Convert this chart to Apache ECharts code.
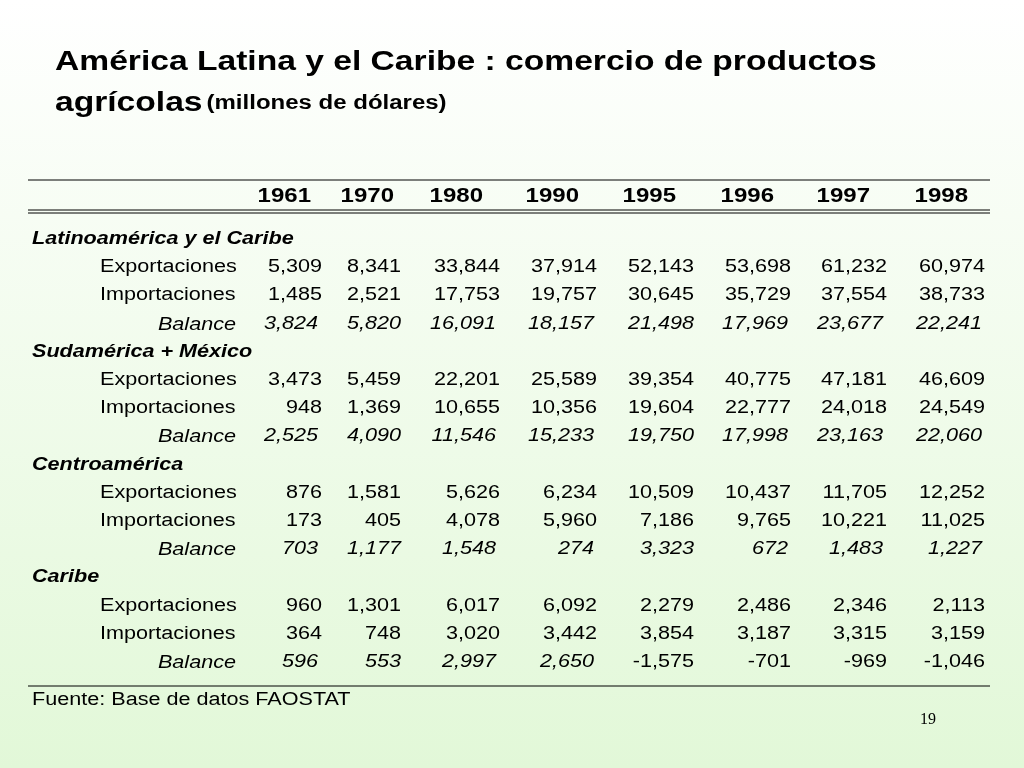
<!DOCTYPE html>
<html><head><meta charset="utf-8">
<script src="https://cdn.jsdelivr.net/npm/echarts@6/dist/echarts.min.js"></script>
<style>html,body{margin:0;padding:0;}#c{width:1024px;height:768px;}</style>
</head><body><div id="c"></div>
<script>
const years = ['1961','1970','1980','1990','1995','1996','1997','1998'];
const groups = ['Latinoamérica y el Caribe','Sudamérica + México','Centroamérica','Caribe'];
const rowLabels = ['Exportaciones','Importaciones','Balance'];
const latExp = ['5,309','8,341','33,844','37,914','52,143','53,698','61,232','60,974'];
const latImp = ['1,485','2,521','17,753','19,757','30,645','35,729','37,554','38,733'];
const latBal = ['3,824','5,820','16,091','18,157','21,498','17,969','23,677','22,241'];
const sudExp = ['3,473','5,459','22,201','25,589','39,354','40,775','47,181','46,609'];
const sudImp = ['948','1,369','10,655','10,356','19,604','22,777','24,018','24,549'];
const sudBal = ['2,525','4,090','11,546','15,233','19,750','17,998','23,163','22,060'];
const cenExp = ['876','1,581','5,626','6,234','10,509','10,437','11,705','12,252'];
const cenImp = ['173','405','4,078','5,960','7,186','9,765','10,221','11,025'];
const cenBal = ['703','1,177','1,548','274','3,323','672','1,483','1,227'];
const carExp = ['960','1,301','6,017','6,092','2,279','2,486','2,346','2,113'];
const carImp = ['364','748','3,020','3,442','3,854','3,187','3,315','3,159'];
const carBal = ['596','553','2,997','2,650','-1,575','-701','-969','-1,046'];
const tableData = [[latExp,latImp,latBal],[sudExp,sudImp,sudBal],[cenExp,cenImp,cenBal],[carExp,carImp,carBal]];

const headX = [311,394,483,579,676,774,870,968];
const valX = [322,401,500,597,694,791,887,985];
const balX = [318,401,496,594,694,788,883,982];
const F = 'Arial, "Liberation Sans", sans-serif';
const SX = 1.2;
const els = [];
function txt(x,y,t,o,sx){els.push({type:'text',x:x,y:y,scaleX:sx||SX,originX:0,originY:0,style:Object.assign({text:t,x:0,y:0,fill:'#000',font:'18px '+F,textAlign:'left',textVerticalAlign:'middle'},o||{})});}
function line(x1,y1,x2,y2,w){els.push({type:'line',shape:{x1:x1,y1:y1,x2:x2,y2:y2},style:{stroke:'#000',lineWidth:w||1}});}

txt(55,62,'América Latina y el Caribe : comercio de productos',{font:'bold 28px '+F});
els.push({type:'text',x:55,y:103,scaleX:SX,style:{rich:{a:{font:'bold 28px '+F,fill:'#000'},b:{font:'bold 20px '+F,fill:'#000'}},text:'{a|agrícolas} {b|(millones de dólares)}',textVerticalAlign:'middle'}});

line(28,180,990,180,1);
line(28,210,990,210,1);
line(28,213,990,213,1);
line(28,686,990,686,1);
years.forEach((y,i)=>txt(headX[i],196,y,{font:'bold 20px '+F,textAlign:'right'}));

let yy = 239;
const step = 28.2;
groups.forEach((g,gi)=>{
  txt(32,yy,g,{font:'bold italic 18px '+F});
  yy+=step;
  rowLabels.forEach((r,ri)=>{
    const isBal = ri===2;
    if(isBal) txt(236,yy+1,r,{font:'italic 18px '+F,textAlign:'right'});
    else txt(100,yy,r);
    tableData[gi][ri].forEach((v,ci)=>{
      const neg = v.charAt(0)==='-';
      const ital = isBal && !neg;
      txt(ital?balX[ci]:valX[ci], yy, v, {font:(ital?'italic ':'')+'18px '+F,textAlign:'right'});
    });
    yy+=step;
  });
});
txt(32,700,'Fuente: Base de datos FAOSTAT');
txt(936,720,'19',{font:'16px "Liberation Serif", serif',textAlign:'right'},1);

const chart = echarts.init(document.getElementById('c'));
chart.setOption({
  backgroundColor:{type:'linear',x:0,y:0,x2:0,y2:1,colorStops:[{offset:0,color:'#ffffff'},{offset:1,color:'#e2f8d8'}]},
  graphic:{elements:els}
});
</script></body></html>
